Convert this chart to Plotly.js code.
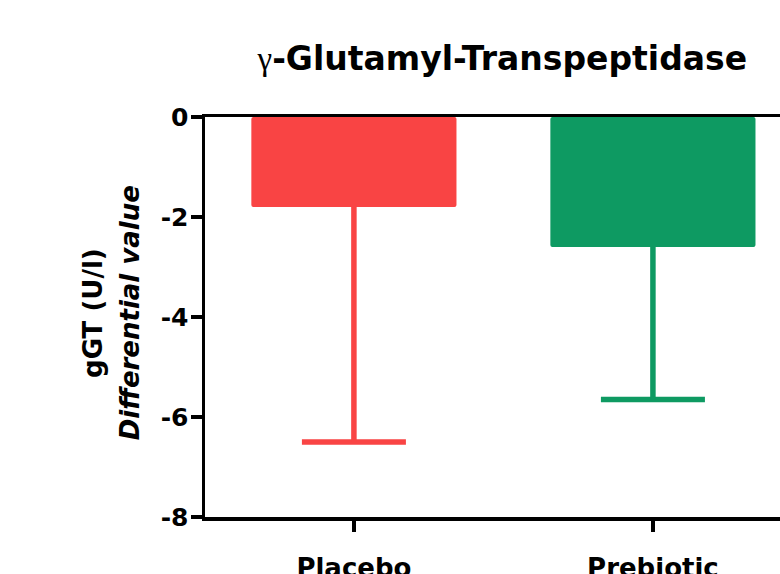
<!DOCTYPE html>
<html>
<head>
<meta charset="utf-8">
<script src="https://cdn.plot.ly/plotly-3.0.1.min.js"></script>
<style>
  html, body { margin: 0; padding: 0; background: #fff; }
  #chart { width: 780px; height: 574px; }
</style>
</head>
<body>
<div id="chart"></div>
<script>
// Change in gamma-GT (U/l), mean with one-sided SD
const groups = ["Placebo", "Prebiotic"];
const meanChange = [-1.8, -2.6];
const sdDown = [4.7, 3.05];
const groupColors = ["#F94444", "#0E9A62"];

const yTicks = [0, -2, -4, -6, -8];
const yTitleLines = ["gGT (U/l)", "Differential value"];

const FONT = "DejaVu Sans, Liberation Sans, Arial, sans-serif";

// bars from zero down to the mean change
const barTraces = groups.map((g, i) => ({
  type: "bar",
  x: [g],
  y: [meanChange[i]],
  base: 0,
  width: 0.686,
  marker: { color: groupColors[i], line: { width: 0 }, cornerradius: 2 },
  showlegend: false,
  hoverinfo: "skip"
}));

// downward SD whisker: stem from the bar end, a cap only at mean - SD
const whiskerTraces = groups.map((g, i) => ({
  type: "scatter",
  mode: "lines",
  x: [g, g],
  y: [meanChange[i], meanChange[i] - sdDown[i]],
  line: { color: groupColors[i], width: 5.5 },
  error_y: {
    type: "data",
    symmetric: false,
    array: [NaN, 0],
    arrayminus: [NaN, 0],
    color: groupColors[i],
    thickness: 5.5,
    width: 52
  },
  showlegend: false,
  hoverinfo: "skip"
}));

const layout = {
  width: 780,
  height: 574,
  margin: { l: 205, r: 0, t: 117, b: 57 },
  paper_bgcolor: "#fff",
  plot_bgcolor: "#fff",
  font: { family: FONT, color: "#000" },
  title: {
    text: "<span style=\"font-family:'Liberation Serif';font-weight:normal\">γ</span><b>-Glutamyl-Transpeptidase</b>",
    font: { size: 33, color: "#000", family: FONT },
    x: 0.644, xanchor: "center", xref: "container",
    y: 0.898, yanchor: "middle", yref: "container"
  },
  xaxis: {
    type: "category",
    range: [-0.498, 1.425],
    showline: true, mirror: true, linecolor: "#000", linewidth: 3.5,
    ticks: "outside", ticklen: 11, tickwidth: 3.5, tickcolor: "#000",
    tickfont: { size: 26, color: "#000", weight: "bold", family: FONT },
    ticklabelstandoff: 14,
    showgrid: false, zeroline: false, fixedrange: true
  },
  yaxis: {
    range: [-8, 0],
    tickvals: yTicks,
    ticktext: yTicks.map(v => String(v)),
    showline: true, linecolor: "#000", linewidth: 3.5,
    ticks: "outside", ticklen: 11, tickwidth: 3.5, tickcolor: "#000",
    tickfont: { size: 25, color: "#000", weight: "bold", family: FONT },
    ticklabelstandoff: -3,
    showgrid: false,
    zeroline: false,
    automargin: false,
    fixedrange: true
  },
  // two-line rotated y-axis title
  annotations: [
    {
      text: "<b>" + yTitleLines[0] + "</b>",
      xref: "paper", yref: "paper",
      x: -0.195, y: 0.51, xanchor: "center", yanchor: "middle",
      textangle: -90, showarrow: false,
      font: { size: 26, color: "#000", family: FONT }
    },
    {
      text: "<b><i>" + yTitleLines[1] + "</i></b>",
      xref: "paper", yref: "paper",
      x: -0.130, y: 0.51, xanchor: "center", yanchor: "middle",
      textangle: -90, showarrow: false,
      font: { size: 26, color: "#000", family: FONT }
    }
  ]
};

Plotly.newPlot("chart", barTraces.concat(whiskerTraces), layout, { displayModeBar: false, staticPlot: true });
</script>
</body>
</html>
